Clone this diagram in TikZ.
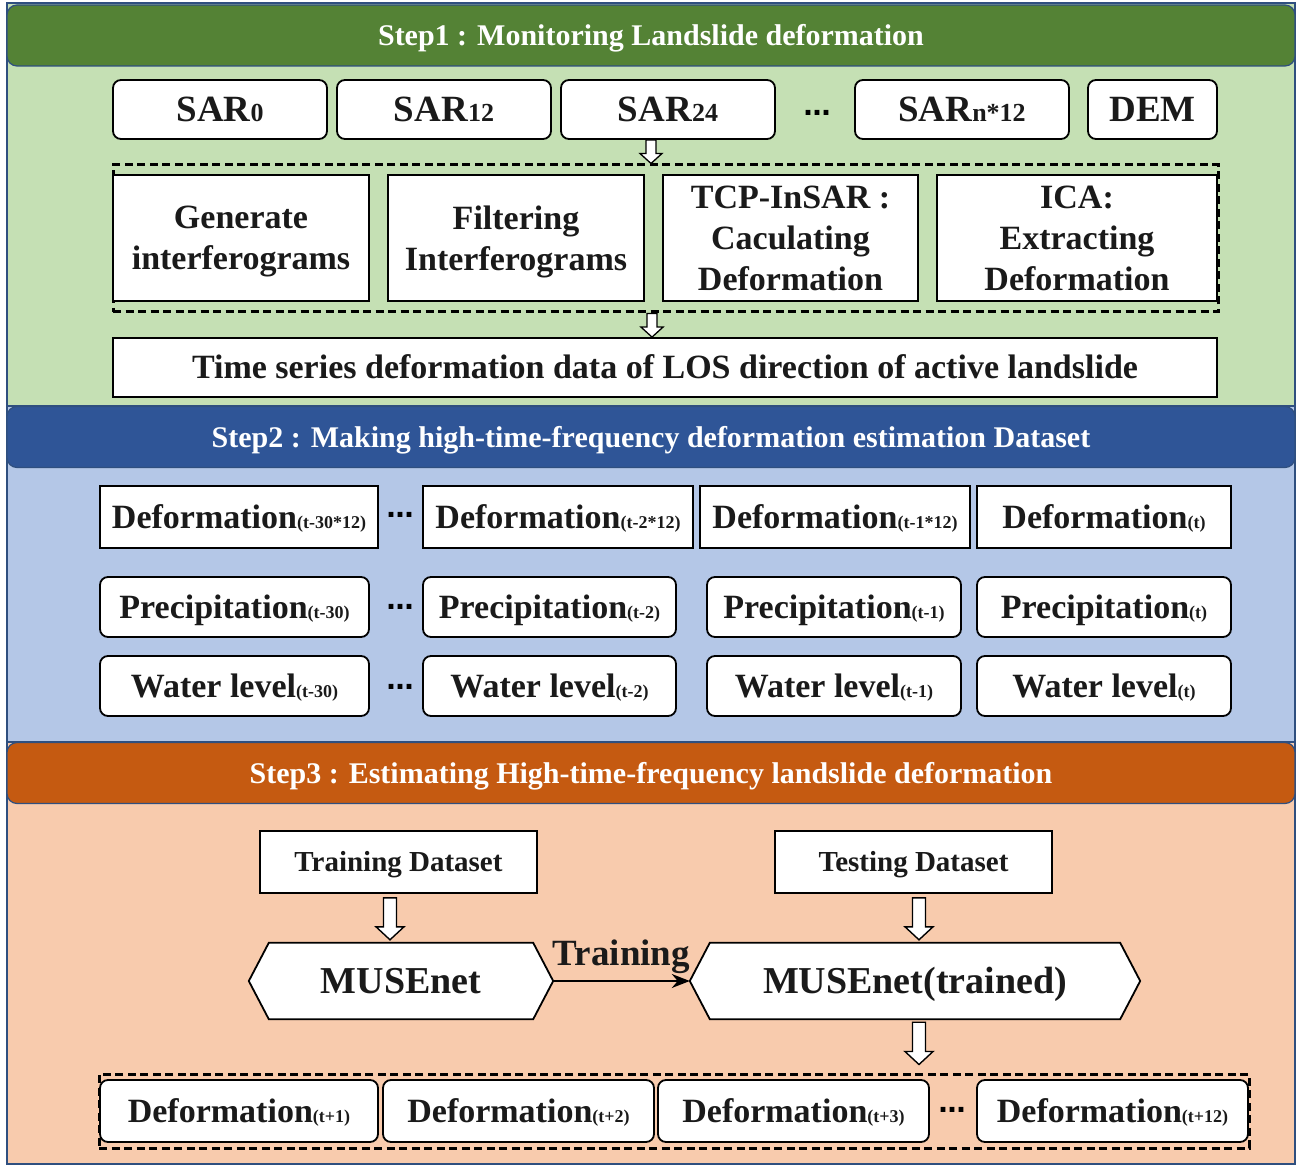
\documentclass[tikz,border=0pt]{standalone}
\usepackage{fontspec}
\setmainfont{Liberation Serif}
\newfontfamily\dvs{DejaVu Sans}
\usetikzlibrary{calc,arrows.meta}
\pgfdeclarelayer{bg}
\pgfdeclarelayer{mid}
\pgfsetlayers{bg,mid,main}
\definecolor{gdark}{HTML}{548235}
\definecolor{glight}{HTML}{C5E0B4}
\definecolor{bdark}{HTML}{2F5597}
\definecolor{blight}{HTML}{B4C7E7}
\definecolor{odark}{HTML}{C55A11}
\definecolor{olight}{HTML}{F8CBAD}
\definecolor{edgec}{HTML}{2F4F7F}
\definecolor{txt}{HTML}{1A1A1A}
\newcommand\fsz[2]{\fontsize{#1}{#2}\selectfont}
\newcommand\sbt[1]{{\fontsize{18}{18}\selectfont #1}}
\newcommand\sbl[1]{{\fontsize{26}{26}\selectfont #1}}
\tikzset{
  panelbox/.style={draw=edgec, line width=1.2pt},
  header/.style={draw=edgec, line width=1.2pt, rounded corners=10pt, minimum width=1288pt, minimum height=61pt, inner sep=0pt, text=white, font=\fsz{30}{36}\bfseries, text height=20pt, text depth=0pt},
  sarbox/.style={draw=black, fill=white, line width=1.8pt, rounded corners=8pt, inner sep=0pt, minimum height=59pt, text=txt, font=\fsz{37}{44}\bfseries, text height=24.5pt, text depth=0pt},
  procbox/.style={draw=black, fill=white, line width=1.8pt, inner sep=0pt, minimum height=126pt, align=center, text=txt, font=\fsz{34}{41}\bfseries, text depth=0pt},
  sqbox/.style={draw=black, fill=white, line width=1.8pt, inner sep=0pt, minimum height=62pt, text=txt, font=\fsz{34}{41}\bfseries, text height=22.5pt, text depth=0pt},
  rdbox/.style={sqbox, rounded corners=8pt, minimum height=60pt},
  dsbox/.style={sqbox, minimum height=62pt, font=\fsz{29}{34}\bfseries, text height=19pt},
  dashframe/.style={draw=black, line width=3pt, dash pattern=on 8pt off 4.5pt, inner sep=0pt},
  ellip/.style={inner sep=0pt, text=black, font=\fsz{27}{27}\dvs\bfseries},
  hexnode/.style={inner sep=0pt, minimum height=76pt, text=txt, font=\fsz{38}{44}\bfseries, text height=25pt, text depth=0pt},
  hexline/.style={draw=black, fill=white, line width=1.8pt, line join=miter},
  flowline/.style={draw=black, line width=1.6pt, -{Stealth[length=18pt,width=14pt]}},
  lbl/.style={inner sep=0pt, anchor=base, yshift=16pt, text=txt, font=\fsz{37}{44}\bfseries},
  smallarrow/.style={draw=black, fill=white, line width=1.3pt, line join=miter,
    to path={let \p1=(\tikztostart), \p2=(\tikztotarget) in
      (\x1-5pt,\y1) -- (\x1-5pt,\y2+10pt) -- (\x1-11pt,\y2+10pt) -- (\x1,\y2) -- (\x1+11pt,\y2+10pt) -- (\x1+5pt,\y2+10pt) -- (\x1+5pt,\y1) -- cycle}},
  bigarrow/.style={draw=black, fill=white, line width=1.4pt, line join=miter,
    to path={let \p1=(\tikztostart), \p2=(\tikztotarget) in
      (\x1-6.5pt,\y1) -- (\x1-6.5pt,\y2+13pt) -- (\x1-14pt,\y2+13pt) -- (\x1,\y2) -- (\x1+14pt,\y2+13pt) -- (\x1+6.5pt,\y2+13pt) -- (\x1+6.5pt,\y1) -- cycle}}
}
\begin{document}
\begin{tikzpicture}[x=1pt,y=-1pt]
\useasboundingbox (0,0) rectangle (1296,1166);
\begin{pgfonlayer}{bg}
  \fill[white] (0,0) rectangle (1296,1166);
  \draw[panelbox, fill=glight] (7,3) rectangle (1295,408);
  \draw[panelbox, fill=blight] (7,406) rectangle (1295,742);
  \draw[panelbox, fill=olight] (7,742) rectangle (1295,1164);
\end{pgfonlayer}

% ---------- Step 1 ----------
\node[header, fill=gdark] (h1) at (651,35.5) {Step1 : Monitoring Landslide deformation};
\node[sarbox, minimum width=214pt] (sar0) at (220,109.5) {SAR\sbl{0}};
\node[sarbox, minimum width=214pt] (sar12) at (444,109.5) {SAR\sbl{12}};
\node[sarbox, minimum width=214pt] (sar24) at (668,109.5) {SAR\sbl{24}};
\node[ellip] (dots1) at (817,113) {…};
\node[sarbox, minimum width=214pt] (sarn) at (962,109.5) {SAR\sbl{n*12}};
\node[sarbox, minimum width=129pt] (dem) at (1152.5,109.5) {DEM};

\node[dashframe, minimum width=1105pt, minimum height=147pt] (frame1) at (665.5,238.5) {};
\node[procbox, minimum width=256pt] (gen) at (241,238) {Generate\\interferograms};
\node[procbox, minimum width=256pt] (filt) at (516,238) {Filtering\\Interferograms};
\node[procbox, minimum width=255pt] (tcp) at (790.5,238) {TCP-InSAR :\\Caculating\\Deformation};
\node[procbox, minimum width=280pt] (ica) at (1077,238) {ICA:\\Extracting\\Deformation};
\node[sqbox, minimum width=1104pt, minimum height=59pt] (ts) at (665,367.5) {Time series deformation data of LOS direction of active landslide};

\draw[smallarrow] ([xshift=-17pt]sar24.south) to ([xshift=-17pt]sar24.south |- frame1.north);
\draw[smallarrow] ([xshift=-13.5pt]frame1.south) to ([xshift=-13.5pt]frame1.south |- ts.north);

% ---------- Step 2 ----------
\node[header, fill=bdark] (h2) at (651,437) {Step2 : Making high-time-frequency deformation estimation Dataset};
\node[sqbox, minimum width=278pt] (d1) at (239,517) {Deformation\sbt{(t-30*12)}};
\node[ellip] (dots2) at (400,515) {…};
\node[sqbox, minimum width=270pt] (d2) at (558,517) {Deformation\sbt{(t-2*12)}};
\node[sqbox, minimum width=270pt] (d3) at (835,517) {Deformation\sbt{(t-1*12)}};
\node[sqbox, minimum width=254pt] (d4) at (1104,517) {Deformation\sbt{(t)}};

\node[rdbox, minimum width=269pt] (p1) at (234.5,607) {Precipitation\sbt{(t-30)}};
\node[ellip] (dots3) at (400,607) {…};
\node[rdbox, minimum width=253pt] (p2) at (549.5,607) {Precipitation\sbt{(t-2)}};
\node[rdbox, minimum width=254pt] (p3) at (834,607) {Precipitation\sbt{(t-1)}};
\node[rdbox, minimum width=254pt] (p4) at (1104,607) {Precipitation\sbt{(t)}};

\node[rdbox, minimum width=269pt] (w1) at (234.5,686) {Water level\sbt{(t-30)}};
\node[ellip] (dots4) at (400,687) {…};
\node[rdbox, minimum width=253pt] (w2) at (549.5,686) {Water level\sbt{(t-2)}};
\node[rdbox, minimum width=254pt] (w3) at (834,686) {Water level\sbt{(t-1)}};
\node[rdbox, minimum width=254pt] (w4) at (1104,686) {Water level\sbt{(t)}};

% ---------- Step 3 ----------
\node[header, fill=odark] (h3) at (651,773) {Step3 : Estimating High-time-frequency landslide deformation};
\node[dsbox, minimum width=277pt] (train) at (398.5,862) {Training Dataset};
\node[dsbox, minimum width=277pt] (test) at (913.5,862) {Testing Dataset};
\node[hexnode, minimum width=304pt] (mus) at (401,981) {MUSEnet};
\node[hexnode, minimum width=450pt] (mtr) at (915,981) {MUSEnet(trained)};
\begin{pgfonlayer}{mid}
  \draw[hexline] (mus.west) -- ([xshift=20pt]mus.north west) -- ([xshift=-20pt]mus.north east) -- (mus.east) -- ([xshift=-20pt]mus.south east) -- ([xshift=20pt]mus.south west) -- cycle;
  \draw[hexline] (mtr.west) -- ([xshift=20pt]mtr.north west) -- ([xshift=-20pt]mtr.north east) -- (mtr.east) -- ([xshift=-20pt]mtr.south east) -- ([xshift=20pt]mtr.south west) -- cycle;
\end{pgfonlayer}

\draw[bigarrow] ([xshift=-8.5pt,yshift=-4pt]train.south) to ([xshift=-8.5pt,yshift=3pt]train.south |- mus.north);
\draw[bigarrow] ([xshift=5.5pt,yshift=-4pt]test.south) to ([xshift=5.5pt,yshift=3pt]test.south |- mtr.north);
\draw[flowline] (mus.east) -- node[lbl] (trlbl) {Training} (mtr.west);

\node[dashframe, minimum width=1150pt, minimum height=74pt] (frame3) at (674,1111) {};
\node[rdbox, minimum height=62pt, minimum width=278pt] (b1) at (239,1111) {Deformation\sbt{(t+1)}};
\node[rdbox, minimum height=62pt, minimum width=271pt] (b2) at (518.5,1111) {Deformation\sbt{(t+2)}};
\node[rdbox, minimum height=62pt, minimum width=271pt] (b3) at (793.5,1111) {Deformation\sbt{(t+3)}};
\node[ellip] (dots5) at (952,1110) {…};
\node[rdbox, minimum height=62pt, minimum width=271pt] (b4) at (1112.5,1111) {Deformation\sbt{(t+12)}};

\draw[bigarrow] ([xshift=4pt,yshift=-3pt]mtr.south) to ([xshift=4pt,yshift=8pt]mtr.south |- frame3.north);
\end{tikzpicture}
\end{document}
